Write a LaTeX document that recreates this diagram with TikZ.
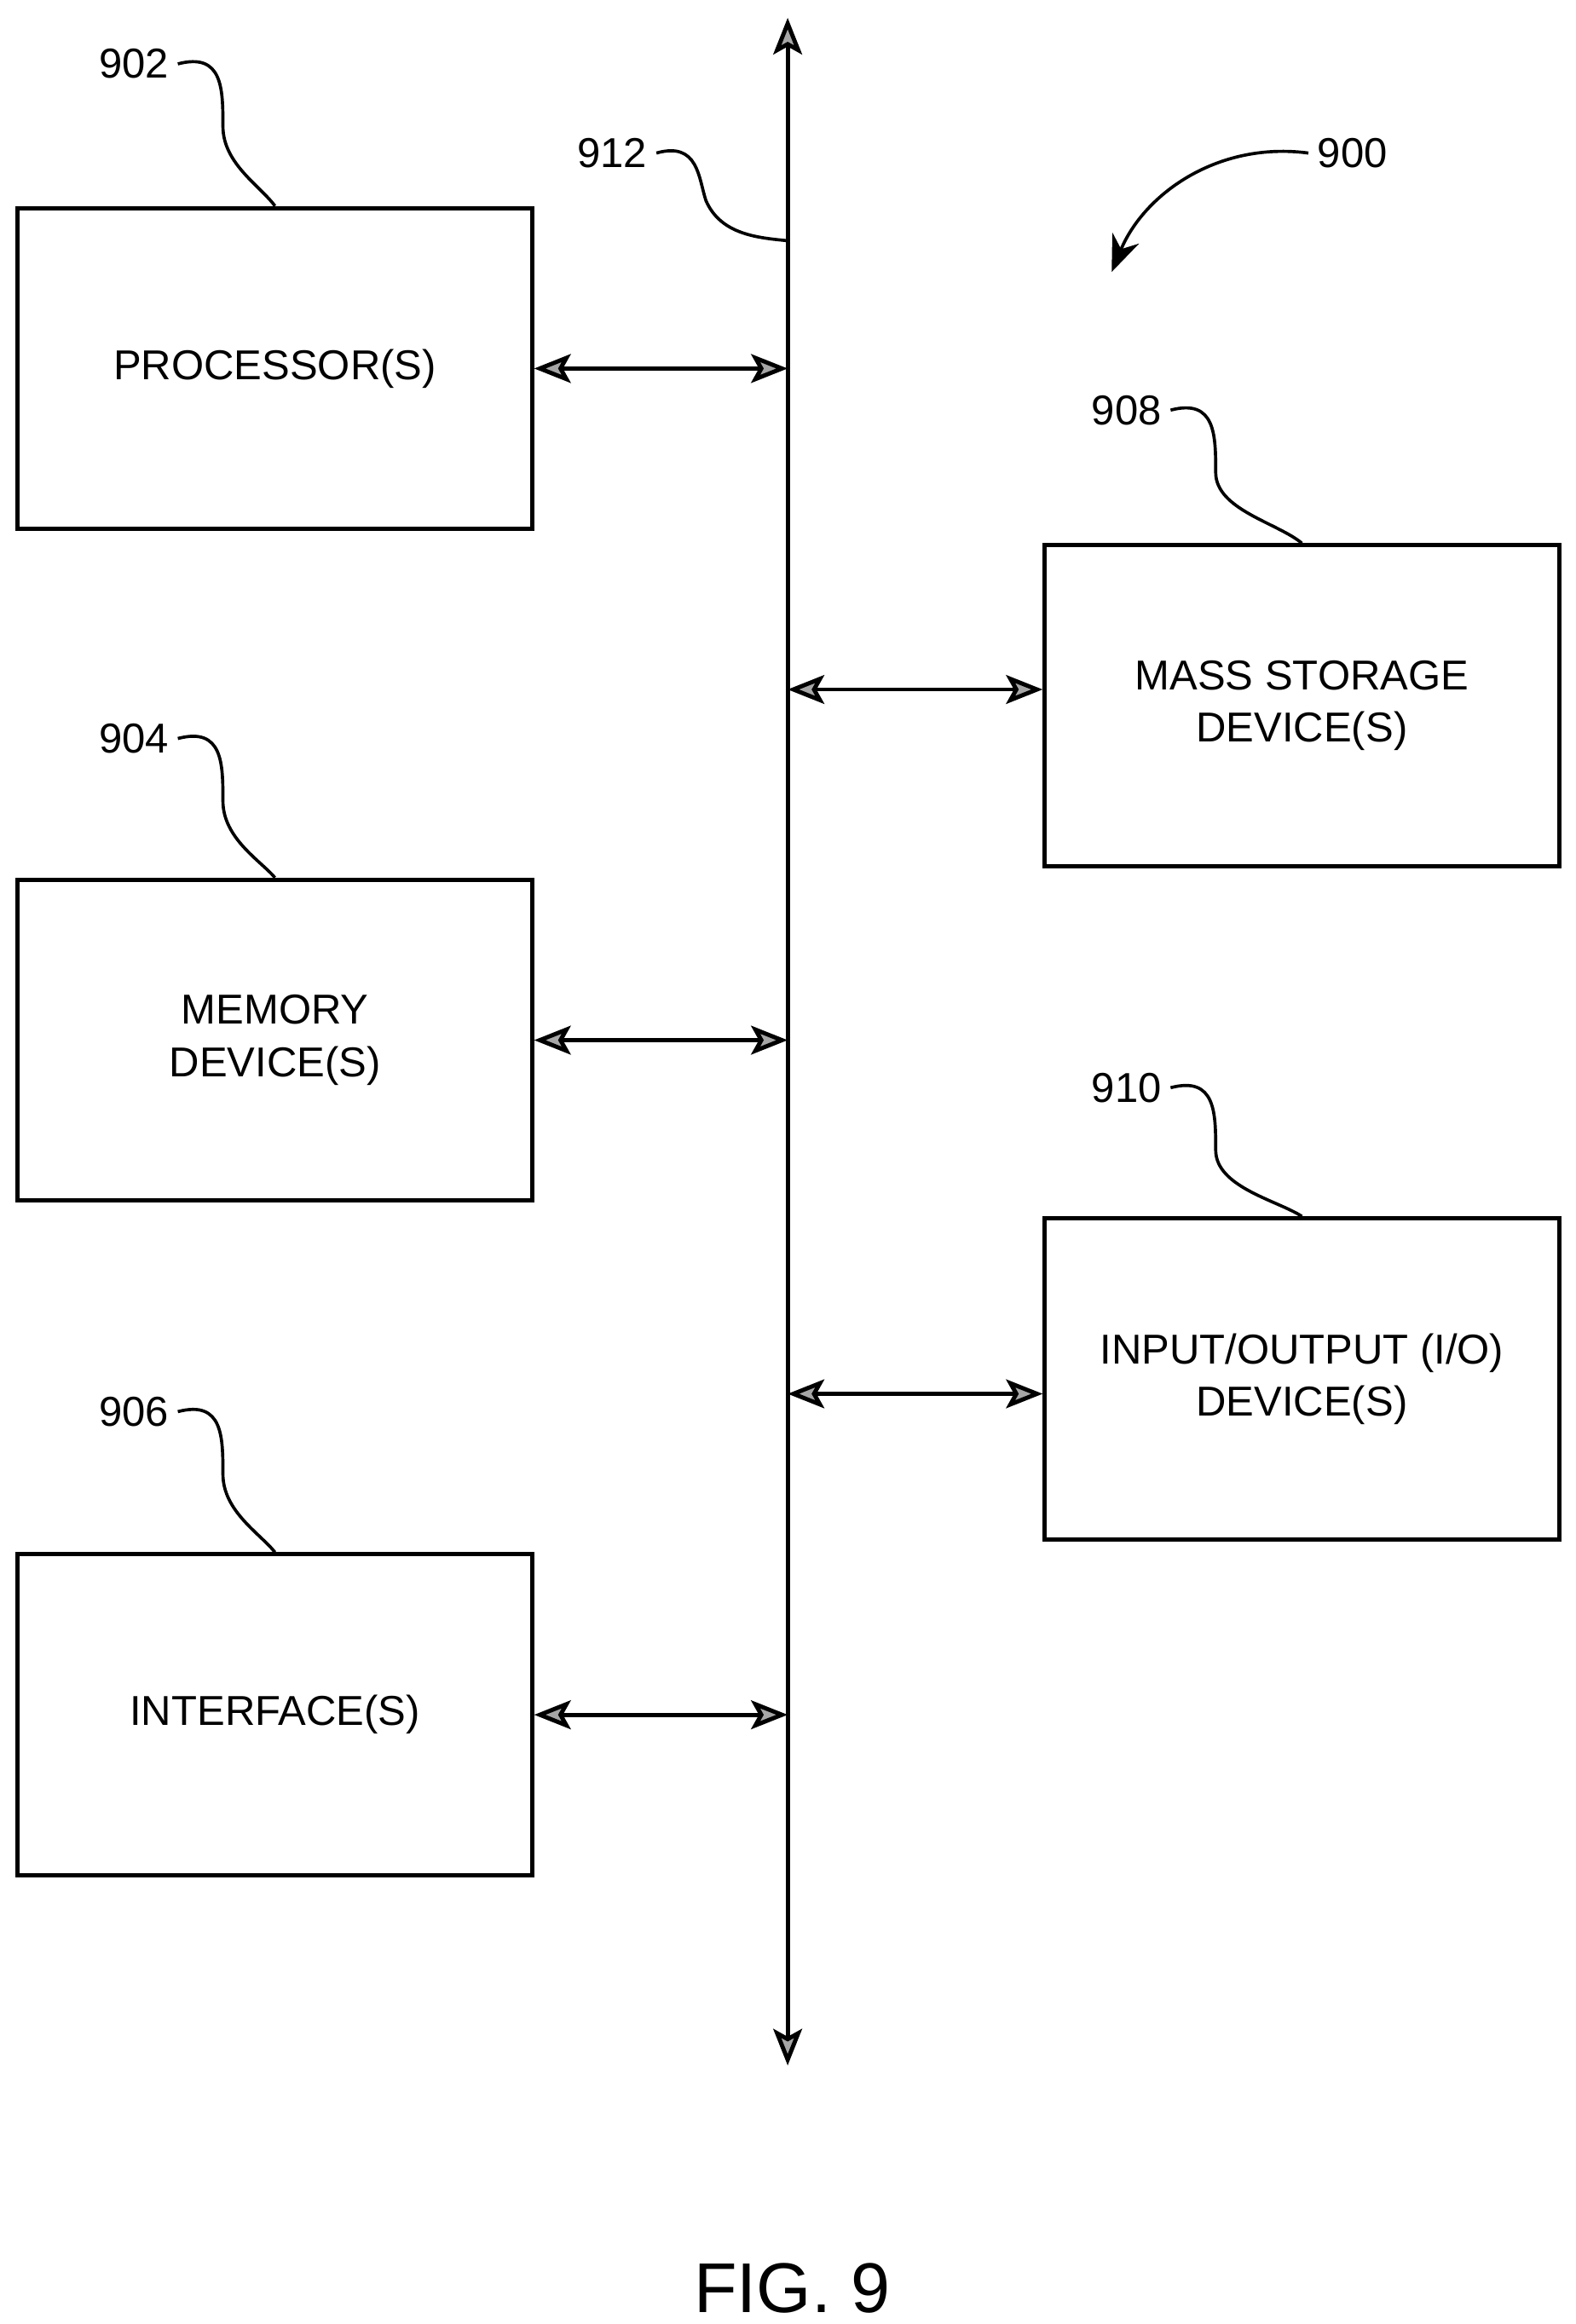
\documentclass[tikz,border=0pt]{standalone}
\usepackage{fontspec}
\setmainfont{Liberation Sans}
\usetikzlibrary{arrows.meta}
\tikzset{
  blk/.style={draw, line width=1.6pt, minimum width=346*0.02cm, minimum height=216*0.02cm, align=center, font=\fontsize{16}{20}\selectfont},
  lbl/.style={font=\fontsize{16}{20}\selectfont},
  dbl/.style={line width=1.6pt, >={Stealth[length=14pt,width=11pt,inset=3pt,fill=gray!70]}, <->},
  lead/.style={line width=1.2pt}
}
\begin{document}
\begin{tikzpicture}[x=0.02cm,y=-0.02cm]
        \useasboundingbox (0,0) rectangle (1060,1564);
        % bus
        \coordinate (bustop) at (530,12);
        \coordinate (busbot) at (530,1390);
        \draw[dbl] (bustop) -- (busbot);
        % boxes
        \node[blk] (proc) at (185,248) {PROCESSOR(S)};
        \node[blk] (mem) at (185,700) {MEMORY\\DEVICE(S)};
        \node[blk] (intf) at (185,1154) {INTERFACE(S)};
        \node[blk] (mass) at (876,475) {MASS STORAGE\\DEVICE(S)};
        \node[blk] (io) at (876,928) {INPUT/OUTPUT (I/O)\\DEVICE(S)};
        % bus taps
        \coordinate (tp) at (530,248);
        \coordinate (tm) at (530,700);
        \coordinate (ti) at (530,1154);
        \coordinate (ts) at (530,464);
        \coordinate (to) at (530,938);
        \draw[dbl] (proc.east) -- (tp);
        \draw[dbl] (mem.east) -- (tm);
        \draw[dbl] (intf.east) -- (ti);
        \draw[dbl] (ts) -- (mass.west |- ts);
        \draw[dbl] (to) -- (io.west |- to);
        % labels
        \node[lbl] (l902) at (90,43) {902};
        \node[lbl] (l904) at (90,497) {904};
        \node[lbl] (l906) at (90,950) {906};
        \node[lbl] (l908) at (758,276) {908};
        \node[lbl] (l910) at (758,732) {910};
        \node[lbl] (l912) at (412,103) {912};
        \node[lbl] (l900) at (910,103) {900};
        \draw[lead] (l902.east) .. controls (150,35) and (150,60) .. (150,85) .. controls (150,110) and (175,125) .. (proc.north);
        \draw[lead] (l904.east) .. controls (150,489) and (150,514) .. (150,539) .. controls (150,564) and (175,579) .. (mem.north);
        \draw[lead] (l906.east) .. controls (150,942) and (150,967) .. (150,992) .. controls (150,1017) and (175,1032) .. (intf.north);
        \draw[lead] (l908.east) .. controls (818,268) and (818,293) .. (818,318) .. controls (818,343) and (860,352) .. (mass.north);
        \draw[lead] (l910.east) .. controls (818,724) and (818,749) .. (818,774) .. controls (818,799) and (860,808) .. (io.north);
        \coordinate (b912) at (530,162);
        \draw[lead] (l912.east) .. controls (470,95) and (470,120) .. (475,135) .. controls (485,158) and (510,160) .. (b912);
        \coordinate (a900) at (748,183);
        \draw[lead, -{Stealth[length=14pt,width=11pt]}] (l900.west) .. controls (820,95) and (770,130) .. (a900);
        \node[font=\fontsize{27}{32}\selectfont] (fig) at (533,1540) {FIG. 9};
\end{tikzpicture}
\end{document}
